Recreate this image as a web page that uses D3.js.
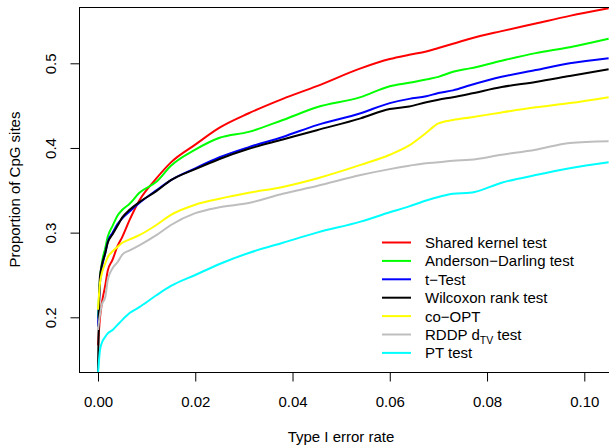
<!DOCTYPE html>
<html>
<head>
    <style>
        body { margin: 0; background: #fff; }
        svg { font-family: "Liberation Sans", Arial, sans-serif; }
        .tick text { font-size: 15px; fill: #000; }
        .tick line { stroke: #000; }
        .lab { font-size: 15px; fill: #000; }
    </style>
    <script src="https://d3js.org/d3.v7.min.js"></script>
</head>
<body>
    <svg width="609" height="447"></svg>
    <script>
        // type I error rate (x), shared by all curves
        var fpr = [0, 0.0004, 0.0008, 0.0015, 0.002, 0.003, 0.004, 0.005, 0.0065, 0.0085, 0.012, 0.015, 0.02, 0.025,
                   0.031, 0.038, 0.045, 0.054, 0.06, 0.064, 0.0675, 0.07, 0.073, 0.0765, 0.083, 0.09, 0.097, 0.105];

        // proportion of CpG sites, one array per test
        var sharedKernel = [0.167,0.199,0.217,0.238,0.255,0.268,0.284,0.295,0.315,0.338,0.364,0.383,0.404,0.424,
                            0.441,0.458,0.473,0.494,0.505,0.510,0.514,0.518,0.523,0.529,0.538,0.547,0.556,0.565];
        var andersonDarling = [0.199,0.244,0.264,0.282,0.295,0.308,0.320,0.327,0.334,0.347,0.360,0.379,0.398,0.412,
                               0.419,0.433,0.448,0.460,0.473,0.477,0.481,0.484,0.490,0.494,0.503,0.512,0.519,0.529];
        var tTest = [0.189,0.240,0.258,0.276,0.289,0.300,0.310,0.317,0.325,0.335,0.350,0.362,0.376,0.389,
                     0.401,0.413,0.427,0.441,0.453,0.458,0.461,0.465,0.468,0.474,0.484,0.492,0.500,0.506];
        var wilcoxon = [0.135,0.248,0.262,0.276,0.288,0.298,0.308,0.318,0.327,0.336,0.349,0.362,0.375,0.387,
                        0.399,0.410,0.421,0.435,0.446,0.449,0.454,0.457,0.460,0.464,0.472,0.478,0.485,0.493];
        var coOpt = [0.209,0.240,0.252,0.264,0.271,0.278,0.283,0.288,0.292,0.297,0.309,0.321,0.333,0.340,
                     0.347,0.354,0.364,0.380,0.392,0.403,0.418,0.429,0.433,0.436,0.442,0.448,0.453,0.460];
        var rddp = [0.185,0.203,0.215,0.224,0.244,0.258,0.265,0.274,0.279,0.285,0.297,0.309,0.323,0.330,
                    0.335,0.346,0.355,0.368,0.375,0.379,0.382,0.383,0.385,0.386,0.392,0.398,0.406,0.408];
        var ptTest = [0.134,0.161,0.170,0.177,0.181,0.185,0.191,0.197,0.205,0.212,0.226,0.237,0.250,0.263,
                      0.276,0.288,0.300,0.313,0.324,0.331,0.338,0.342,0.346,0.347,0.359,0.368,0.376,0.383];

        var xTicks = [0, 0.02, 0.04, 0.06, 0.08, 0.10];
        var yTicks = [0.2, 0.3, 0.4, 0.5];

        var series = [
            { name: "Shared kernel test", values: sharedKernel, color: "#ff0000" },
            { name: "Anderson\u2212Darling test", values: andersonDarling, color: "#00ff00" },
            { name: "t\u2212Test", values: tTest, color: "#0000ff" },
            { name: "Wilcoxon rank test", values: wilcoxon, color: "#000000" },
            { name: "co\u2212OPT", values: coOpt, color: "#ffff00" },
            { name: "RDDP", values: rddp, color: "#bebebe" },
            { name: "PT test", values: ptTest, color: "#00ffff" }
        ];

        var svg = d3.select("svg");

        var box = { left: 79.5, top: 7.5, right: 612, bottom: 372.5 };

        var x = d3.scaleLinear().domain([0, 0.1]).range([98, 584.3]);
        var y = d3.scaleLinear().domain([0.2, 0.5]).range([317.3, 63.3]);

        svg.append("clipPath").attr("id", "plotclip")
           .append("rect")
           .attr("x", box.left).attr("y", box.top)
           .attr("width", box.right - box.left).attr("height", box.bottom - box.top);

        var line = d3.line()
                     .x(function(d, i) { return x(fpr[i]); })
                     .y(function(d) { return y(d); })
                     .curve(d3.curveMonotoneX);

        var curves = svg.append("g").attr("clip-path", "url(#plotclip)");
        series.forEach(function(s) {
            curves.append("path")
                  .datum(s.values)
                  .attr("d", line)
                  .attr("fill", "none")
                  .attr("stroke", s.color)
                  .attr("stroke-width", 2)
                  .attr("stroke-linejoin", "round");
        });

        // frame
        svg.append("rect")
           .attr("x", box.left).attr("y", box.top)
           .attr("width", box.right - box.left).attr("height", box.bottom - box.top)
           .attr("fill", "none").attr("stroke", "#000").attr("stroke-width", 1);

        // x axis
        var xAxis = svg.append("g")
           .attr("transform", "translate(0," + box.bottom + ")")
           .call(d3.axisBottom(x).tickValues(xTicks).tickSize(9).tickPadding(0).tickFormat(d3.format(".2f")));
        xAxis.select(".domain").remove();
        xAxis.selectAll(".tick text").attr("dy", null).attr("y", 34);
        xAxis.style("font-family", null).style("font-size", null);

        // y axis
        var yAxis = svg.append("g")
           .attr("transform", "translate(" + box.left + ",0)")
           .call(d3.axisLeft(y).tickValues(yTicks).tickSize(9).tickFormat(d3.format(".1f")));
        yAxis.select(".domain").remove();
        yAxis.selectAll(".tick text")
             .attr("x", null).attr("dy", null)
             .attr("text-anchor", "middle")
             .attr("transform", "translate(-24,0) rotate(-90)");
        yAxis.style("font-family", null).style("font-size", null);

        // axis titles
        svg.append("text").attr("class", "lab")
           .attr("x", 341).attr("y", 442)
           .attr("text-anchor", "middle")
           .text("Type I error rate");

        svg.append("text").attr("class", "lab")
           .attr("transform", "translate(19.5,189.5) rotate(-90)")
           .attr("text-anchor", "middle")
           .text("Proportion of CpG sites");

        // legend
        var legend = svg.append("g").attr("transform", "translate(382,242.5)");
        series.forEach(function(s, i) {
            var row = legend.append("g").attr("transform", "translate(0," + (i * 18.4) + ")");
            row.append("line").attr("x1", 0).attr("x2", 29).attr("y1", 0).attr("y2", 0)
               .attr("stroke", s.color).attr("stroke-width", 2);
            var t = row.append("text").attr("class", "lab").attr("x", 43).attr("y", 5.5);
            if (s.name === "RDDP") {
                t.append("tspan").text("RDDP d");
                t.append("tspan").attr("font-size", "10.5px").attr("dy", 4).text("TV");
                t.append("tspan").attr("dy", -4).text(" test");
            } else {
                t.text(s.name);
            }
        });
    </script>
</body>
</html>
